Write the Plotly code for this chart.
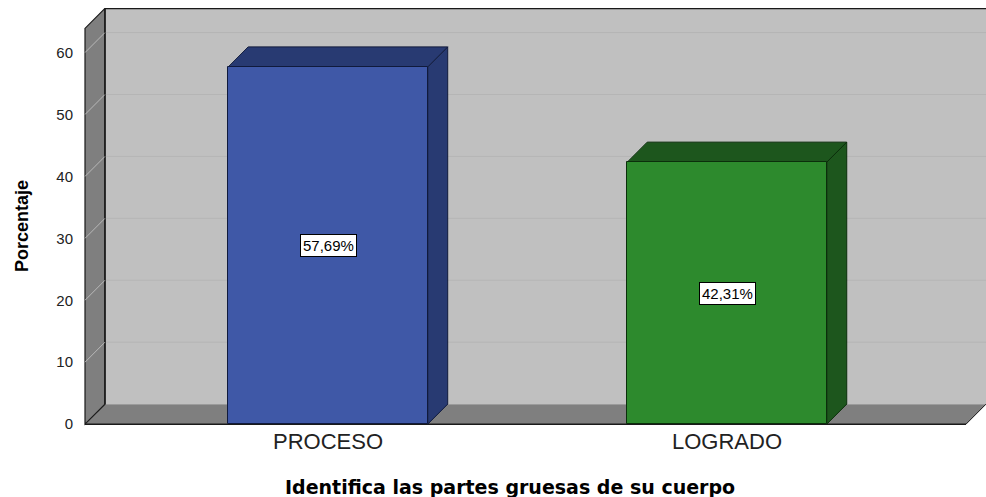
import plotly.graph_objects as go

# ---- data ----
categories = ["PROCESO", "LOGRADO"]
values = [57.69, 42.31]
value_labels = ["57,69%", "42,31%"]
y_ticks = [0, 10, 20, 30, 40, 50, 60]
y_title = "Porcentaje"
x_title = "Identifica las partes gruesas de su cuerpo"

# ---- styling / geometry ----
front_colors = ["#3f58a7", "#2d8a2d"]
dark_colors = ["#283a72", "#1d561d"]
edge_colors = ["#101a3c", "#0b2e0b"]
W, H = 986, 497
ML, MR, MT, MB = 83, 0, 8, 71
X_RANGE = [-0.614, 1.649]
Y_RANGE = [-0.3, 67.2]
WALL_TOP = 63.9        # axis maximum (front edge of the walls)
DX, DY = 0.05, 3.23    # depth offset of the 3D effect (data units)
BAR_W = 0.5

plot_w = W - ML - MR
plot_h = H - MT - MB


def px_to_paper(px, py):
    return (px - ML) / plot_w, (H - MB - py) / plot_h


def path(pts):
    return "M " + " L ".join(f"{x},{y}" for x, y in pts) + " Z"


shapes = []
xl, xr = X_RANGE[0] + 0.005, X_RANGE[1]
# back wall
shapes.append(dict(type="path", layer="below", xref="x", yref="y",
                   path=path([(xl + DX, DY), (xr + 0.1, DY), (xr + 0.1, WALL_TOP + DY), (xl + DX, WALL_TOP + DY)]),
                   fillcolor="#c0c0c0", line=dict(width=0)))
# gridlines on back wall
for t in y_ticks[1:]:
    shapes.append(dict(type="line", layer="below", xref="x", yref="y",
                       x0=xl + DX, x1=xr + 0.1, y0=t + DY, y1=t + DY,
                       line=dict(color="#b5b5b5", width=1)))
# back wall top edge
shapes.append(dict(type="line", layer="below", xref="x", yref="y",
                   x0=xl + DX, x1=xr + 0.1, y0=WALL_TOP + DY, y1=WALL_TOP + DY,
                   line=dict(color="#1a1a1a", width=1.5)))
# floor
shapes.append(dict(type="path", layer="below", xref="x", yref="y",
                   path=path([(xl, 0), (xr - DX, 0), (xr, DY), (xl + DX, DY)]),
                   fillcolor="#7f7f7f", line=dict(width=0)))
shapes.append(dict(type="line", layer="below", xref="x", yref="y",
                   x0=xl, x1=xr - DX, y0=0, y1=0, line=dict(color="#1a1a1a", width=1.5)))
shapes.append(dict(type="line", layer="below", xref="x", yref="y",
                   x0=xr - DX, x1=xr, y0=0, y1=DY, line=dict(color="#1a1a1a", width=1)))
# left wall
shapes.append(dict(type="path", layer="below", xref="x", yref="y",
                   path=path([(xl, 0), (xl + DX, DY), (xl + DX, WALL_TOP + DY), (xl, WALL_TOP)]),
                   fillcolor="#7f7f7f", line=dict(color="#1a1a1a", width=1.2)))
shapes.append(dict(type="line", layer="below", xref="x", yref="y",
                   x0=xl + DX, x1=xl + DX, y0=DY, y1=WALL_TOP + DY,
                   line=dict(color="#1a1a1a", width=1.5)))
for t in y_ticks[1:]:
    shapes.append(dict(type="line", layer="below", xref="x", yref="y",
                       x0=xl, x1=xl + DX, y0=t, y1=t + DY,
                       line=dict(color="#b8b8b8", width=1)))
# bar side and top faces
for i, v in enumerate(values):
    x0, x1 = i - BAR_W / 2, i + BAR_W / 2
    shapes.append(dict(type="path", layer="below", xref="x", yref="y",
                       path=path([(x1, 0), (x1 + DX, DY), (x1 + DX, v + DY), (x1, v)]),
                       fillcolor=dark_colors[i], line=dict(color=edge_colors[i], width=1)))
    shapes.append(dict(type="path", layer="below", xref="x", yref="y",
                       path=path([(x0, v), (x1, v), (x1 + DX, v + DY), (x0 + DX, v + DY)]),
                       fillcolor=dark_colors[i], line=dict(color=edge_colors[i], width=1)))

fig = go.Figure()
fig.add_trace(go.Bar(
    x=list(range(len(categories))), y=values, width=BAR_W,
    marker=dict(color=front_colors, line=dict(color=edge_colors, width=1)),
    hoverinfo="skip", showlegend=False,
))

annotations = []
for i, (v, lab) in enumerate(zip(values, value_labels)):
    annotations.append(dict(x=i, y=v / 2, xref="x", yref="y", text=lab, showarrow=False,
                            font=dict(family="Liberation Sans, Arial", size=15, color="black"),
                            bgcolor="white", bordercolor="black", borderwidth=1, borderpad=2))

tx, ty = px_to_paper(22, 226)
annotations.append(dict(x=tx, y=ty, xref="paper", yref="paper", text=f"<b>{y_title}</b>",
                        textangle=-90, showarrow=False, xanchor="center", yanchor="middle",
                        font=dict(family="Liberation Sans, Arial", size=18, color="black")))
tx, ty = px_to_paper(510, 487)
annotations.append(dict(x=tx, y=ty, xref="paper", yref="paper", text=f"<b>{x_title}</b>",
                        showarrow=False, xanchor="center", yanchor="middle",
                        font=dict(family="DejaVu Sans", size=19, color="black")))

fig.update_layout(
    width=W, height=H,
    margin=dict(l=ML, r=MR, t=MT, b=MB, pad=0),
    paper_bgcolor="white", plot_bgcolor="white",
    shapes=shapes, annotations=annotations,
    bargap=0,
    xaxis=dict(range=X_RANGE, tickvals=list(range(len(categories))), ticktext=categories,
               showgrid=False, zeroline=False, showline=False, ticks="",
               tickfont=dict(family="Liberation Sans, Arial", size=22, color="#222")),
    yaxis=dict(range=Y_RANGE, tickvals=y_ticks, showgrid=False, zeroline=False, showline=False,
               ticks="outside", ticklen=6, tickcolor="rgba(0,0,0,0)",
               tickfont=dict(family="Liberation Sans, Arial", size=15, color="#222")),
)

fig.write_html("out.html", config={"displayModeBar": False},
               post_script="document.body.style.margin='0';")
